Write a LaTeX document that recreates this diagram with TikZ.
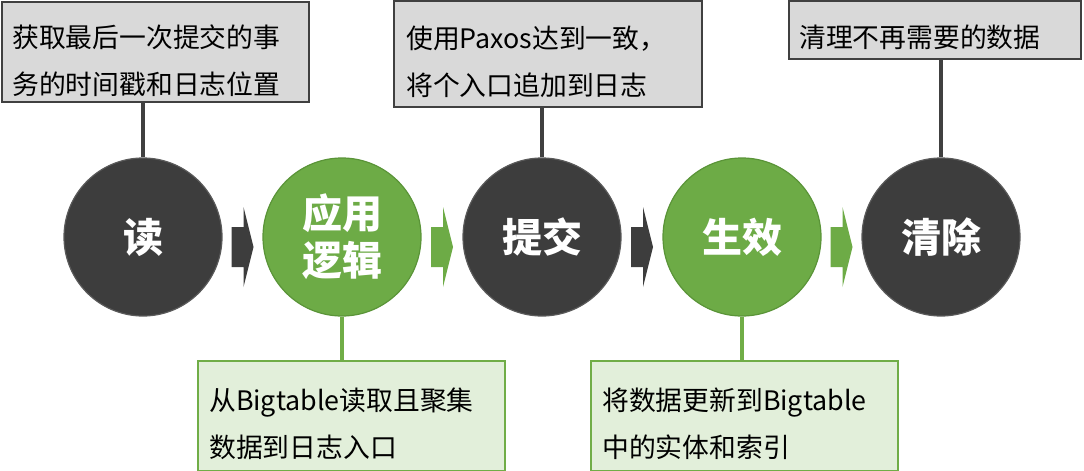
\documentclass[tikz,border=0pt]{standalone}
\usepackage{fontspec}
\setmainfont{Noto Sans CJK SC}
\usetikzlibrary{calc}
\definecolor{darkstep}{HTML}{3D3D3D}
\definecolor{darkrim}{HTML}{5A5A5A}
\definecolor{greenstep}{HTML}{6DAB46}
\definecolor{greenrim}{HTML}{5A9438}
\definecolor{notegray}{HTML}{D9D9D9}
\definecolor{noteline}{HTML}{404040}
\definecolor{notegreen}{HTML}{E2EFDA}
\definecolor{greenline}{HTML}{70AD47}
\tikzset{
  stepcircle/.style={circle, minimum size=158pt, inner sep=0pt, line width=1.2pt,
    text=white, align=center, font=\fontsize{40}{47}\selectfont\bfseries},
  darkcircle/.style={stepcircle, fill=darkstep, draw=darkrim},
  greencircle/.style={stepcircle, fill=greenstep, draw=greenrim},
  topnote/.style={rectangle, fill=notegray, draw=noteline, line width=2pt, inner sep=0pt},
  bottomnote/.style={rectangle, fill=notegreen, draw=greenline, line width=1.5pt, inner sep=0pt},
  notetext/.style={anchor=west, align=left, inner sep=0pt, text=black,
    font=\fontsize{26.8}{47}\selectfont},
  darklink/.style={draw=noteline, line width=4pt},
  greenlink/.style={draw=greenline, line width=4pt},
}
% block arrow centred on a coordinate
\newcommand{\flowarrow}[2]{%
  \fill[#2] ($(#1)+(-11,-10)$) -- ++(12,0) -- ++(0,-20) -- ++(10,40) -- ++(-10,40) -- ++(0,-20) -- ++(-12,0) -- cycle;}
\begin{document}
\begin{tikzpicture}[x=1pt,y=-1pt]
\useasboundingbox (0,0) rectangle (1084,471);

% upper notes
\node[topnote, minimum width=307pt, minimum height=100pt] (n1) at (155.5,52) {};
\node[notetext] (t1) at (12,61) {获取最后一次提交的事\\务的时间戳和日志位置};
\node[topnote, minimum width=308pt, minimum height=106pt] (n3) at (548,54) {};
\node[notetext] (t3) at (406,62) {使用Paxos达到一致，\\将个入口追加到日志};
\node[topnote, minimum width=292pt, minimum height=58pt] (n5) at (935,30) {};
\node[notetext] (t5) at (799,37) {清理不再需要的数据};

% lower notes
\node[bottomnote, minimum width=307pt, minimum height=110pt] (n2) at (351.5,416) {};
\node[notetext] (t2) at (209,424) {从Bigtable读取且聚集\\数据到日志入口};
\node[bottomnote, minimum width=307pt, minimum height=110pt] (n4) at (744.5,416) {};
\node[notetext] (t4) at (602,424) {将数据更新到Bigtable\\中的实体和索引};

% steps
\node[darkcircle] (s1) at (143,237) {读};
\node[greencircle] (s2) at (342,237) {应用\\逻辑};
\node[darkcircle] (s3) at (542,237) {提交};
\node[greencircle] (s4) at (742,237) {生效};
\node[darkcircle] (s5) at (941,237) {清除};

% note connectors
\draw[darklink] (n1.south -| s1) -- (s1.north);
\draw[darklink] (n3.south -| s3) -- (s3.north);
\draw[darklink] (n5.south -| s5) -- (s5.north);
\draw[greenlink] (s2.south) -- (n2.north -| s2);
\draw[greenlink] (s4.south) -- (n4.north -| s4);

% flow arrows
\coordinate (a1) at ($(s1.east)!0.5!(s2.west)$);
\coordinate (a2) at ($(s2.east)!0.5!(s3.west)$);
\coordinate (a3) at ($(s3.east)!0.5!(s4.west)$);
\coordinate (a4) at ($(s4.east)!0.5!(s5.west)$);
\flowarrow{a1}{darkstep}
\flowarrow{a2}{greenstep}
\flowarrow{a3}{darkstep}
\flowarrow{a4}{greenstep}
\end{tikzpicture}
\end{document}
